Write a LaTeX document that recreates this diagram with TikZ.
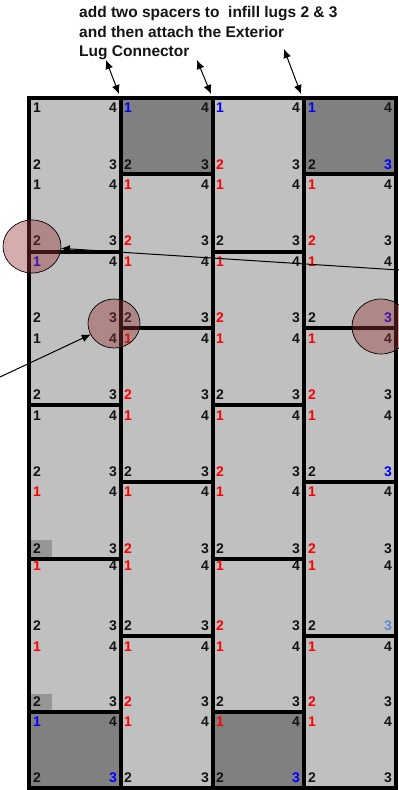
\documentclass[tikz,border=0pt]{standalone}
\usepackage{fontspec}
\setmainfont{Liberation Sans}
\usepackage{xcolor}
\usepackage{tikz}
\usetikzlibrary{shapes.geometric,arrows.meta,positioning,calc}
\definecolor{LugLight}{HTML}{C0C0C0}
\definecolor{LugDark}{HTML}{808080}
\definecolor{LugPatch}{HTML}{969696}
\definecolor{LugK}{HTML}{141414}
\definecolor{LugR}{HTML}{FF0000}
\definecolor{LugB}{HTML}{0000FF}
\definecolor{LugS}{HTML}{5B8BD0}
\definecolor{LugHalo}{HTML}{993333}

\begin{document}
\begin{tikzpicture}[x=1pt, y=-1pt,
  every node/.style={font=\bfseries\fontsize{14}{16}\selectfont},
  lug/.style={inner sep=0pt},
  note/.style={inner sep=0pt, anchor=base west, font=\bfseries\fontsize{15.5}{18}\selectfont, text=LugK},
  wall/.style={draw=black, line width=4pt},
  halo/.style={ellipse, draw=black, fill=LugHalo, fill opacity=0.4, line width=0.7pt, inner sep=0pt, outer sep=0pt},
  arrow/.style={-{Latex[length=9pt,width=8pt]}, draw=black, line width=1pt},
  twoway/.style={{Latex[length=9pt,width=8pt]}-{Latex[length=9pt,width=8pt]}, draw=black, line width=1pt},
]
\useasboundingbox (0,0) rectangle (399,790);
% plates
\fill[LugLight] (29,98) rectangle (396,788);
\fill[LugDark] (121,98) rectangle (213,174);
\fill[LugDark] (304,98) rectangle (396,174);
\fill[LugDark] (29,712) rectangle (121,788);
\fill[LugDark] (213,712) rectangle (304,788);
\fill[LugPatch] (31,540) rectangle (52,557);
\fill[LugPatch] (31,694) rectangle (52,711);
% walls
\draw[wall] (29,98) rectangle (396,788);
\foreach \x in {121,213,304} {\draw[wall] (\x,98) -- (\x,788);}
\foreach \x/\xx in {29/121,213/304} {
  \foreach \y in {251.5,405,558.5,712} {\draw[wall] (\x,\y) -- (\xx,\y);}
}
\foreach \x/\xx in {121/213,304/396} {
  \foreach \y in {174,328,481.5,635.5} {\draw[wall] (\x,\y) -- (\xx,\y);}
}
% lug numbers, colours of 1/2/3 per row
\foreach \n/\xa/\xb/\rows in {
  a/37/113/{K/K/K,K/K/K,B/K/K,K/K/K,K/K/K,R/K/K,R/K/K,R/K/K,B/K/B},
  b/128/205/{B/K/K,R/R/K,R/K/K,R/R/K,R/K/K,R/R/K,R/K/K,R/R/K,R/K/K},
  c/220/296/{B/R/K,R/K/K,R/R/K,R/K/K,R/R/K,R/K/K,R/R/K,R/K/K,R/K/B},
  d/312/388/{B/K/B,R/R/K,R/K/B,R/R/K,R/K/B,R/R/K,R/K/S,R/R/K,R/K/K}} {
  \foreach \one/\two/\three [count=\r from 0] in \rows {
    \pgfmathsetmacro{\ya}{{108,185,262,339,416,492,566,647,722}[\r]}
    \pgfmathsetmacro{\yb}{{165,241,318,395,472,549,626,702,778}[\r]}
    \node[lug, text=Lug\one] (\n\r-1) at (\xa,\ya) {1};
    \node[lug, text=Lug\two] (\n\r-2) at (\xa,\yb) {2};
    \node[lug, text=Lug\three] (\n\r-3) at (\xb,\yb) {3};
    \node[lug, text=LugK] (\n\r-4) at (\xb,\ya) {4};
  }
}
% caption
\node[note] (line1) at (79,17) {add two spacers to\ \ infill lugs 2 \& 3};
\node[note] (line2) at (79,37) {and then attach the Exterior};
\node[note] (line3) at (79,56) {Lug Connector};
% arrows
\coordinate (t1) at (106,60); \coordinate (h1) at (119,94);
\coordinate (t2) at (197,60); \coordinate (h2) at (211,94);
\coordinate (t3) at (284,49); \coordinate (h3) at (301,94);
\foreach \i in {1,2,3} {\draw[twoway] (t\i) -- (h\i);}
\node[halo, minimum width=58pt, minimum height=53pt] (lugleft) at (32,246.5) {};
\node[halo, minimum width=52pt, minimum height=49pt] (lugmid) at (114,323.5) {};
\node[halo, minimum width=58pt, minimum height=55pt] (lugright) at (381,326.5) {};
\coordinate (farright) at (399,270);
\coordinate (farleft) at (0,377);
\draw[arrow] (farright) -- (lugleft);
\draw[arrow] (farleft) -- (lugmid);
\end{tikzpicture}
\end{document}
